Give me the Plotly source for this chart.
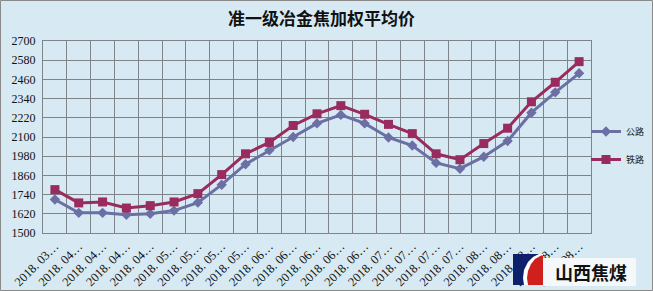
import plotly.graph_objects as go

tick_labels = ["2018. 03…"] + ["2018. 04…"] * 4 + ["2018. 05…"] * 4 + ["2018. 06…"] * 5 + \
              ["2018. 07…"] * 4 + ["2018. 08…"] * 5
gonglu = [1709, 1626, 1626, 1614, 1620, 1640, 1690, 1802, 1930, 2017, 2100, 2185, 2238,
          2185, 2097, 2047, 1938, 1902, 1977, 2075, 2252, 2379, 2498]
tielu = [1771, 1688, 1694, 1656, 1671, 1694, 1746, 1865, 1995, 2066, 2172, 2245, 2296,
         2242, 2179, 2121, 1995, 1958, 2059, 2155, 2320, 2442, 2571]
x = list(range(len(tick_labels)))

W, H = 653, 291
L, R, T, B = 43, 62, 41, 58
PW, PH = W - L - R, H - T - B

def fx(px):
    return (px - L) / PW

def fy(py):
    return (H - B - py) / PH

BG = "#D7EAF3"
GRID = "#7E848A"
BLUE = "#6B6FA3"
RED = "#9A2B5E"

fig = go.Figure()
fig.add_trace(go.Scatter(x=x, y=gonglu, name="公路", mode="lines+markers",
                         line=dict(color=BLUE, width=3),
                         marker=dict(symbol="diamond", size=8, color=BLUE),
                         legendgroup="a"))
fig.add_trace(go.Scatter(x=x, y=tielu, name="铁路", mode="lines+markers",
                         line=dict(color=RED, width=3),
                         marker=dict(symbol="square", size=9, color=RED),
                         legendgroup="b"))

shapes = [
    dict(type="rect", xref="paper", yref="paper", x0=fx(0.5), x1=fx(W - 0.5), y0=fy(H - 0.5), y1=fy(0.5),
         line=dict(color="#8A8A8A", width=1), layer="below"),
    dict(type="rect", xref="paper", yref="paper", x0=fx(543), x1=fx(636), y0=fy(286), y1=fy(258),
         fillcolor="#F4F8FA", line=dict(width=0)),
    dict(type="rect", xref="paper", yref="paper", x0=fx(513), x1=fx(543), y0=fy(285), y1=fy(254),
         fillcolor="#0E1F6B", line=dict(width=0)),
]

def pth(pts):
    return "M " + " L ".join(f"{fx(a):.5f},{fy(b):.5f}" for a, b in pts) + " Z"

white_pts = [(539, 254), (543, 254), (543, 285), (524, 285), (523, 278), (524, 270), (528, 262), (533, 257)]
red_pts = [(541, 255.5), (543, 255.5), (543, 285), (528, 285), (527, 278), (528, 271), (531, 264), (535, 259)]
shapes.append(dict(type="path", xref="paper", yref="paper", path=pth(white_pts),
                   fillcolor="white", line=dict(width=0)))
shapes.append(dict(type="path", xref="paper", yref="paper", path=pth(red_pts),
                   fillcolor="#D0201E", line=dict(width=0)))

annotations = [
    dict(text="<b>准一级冶金焦加权平均价</b>", xref="paper", yref="paper",
         x=fx(321), y=fy(18), xanchor="center", yanchor="middle", showarrow=False,
         font=dict(family="Noto Sans CJK SC", size=17, color="#111111")),
    dict(text="<b>山西焦煤</b>", xref="paper", yref="paper",
         x=fx(591), y=fy(272), xanchor="center", yanchor="middle", showarrow=False,
         font=dict(family="Noto Sans CJK SC", size=18, color="#111111")),
]

fig.update_layout(
    width=W, height=H,
    margin=dict(l=L, r=R, t=T, b=B, autoexpand=False),
    paper_bgcolor=BG, plot_bgcolor=BG,
    showlegend=True,
    legend=dict(x=fx(586), y=fy(117), xanchor="left", yanchor="top",
                bgcolor="rgba(0,0,0,0)", tracegroupgap=9,
                font=dict(family="Noto Sans CJK SC", size=9, color="#222222")),
    shapes=shapes,
    annotations=annotations,
    xaxis=dict(range=[-0.5, len(x) - 0.5], tickmode="array", tickvals=x, ticktext=tick_labels,
               tickangle=-45, showgrid=False, zeroline=False, automargin=False,
               showline=True, linecolor=GRID, linewidth=1, mirror=True,
               tickfont=dict(family="Liberation Serif", size=12.5, color="#111111"),
               minor=dict(tickmode="linear", tick0=0.5, dtick=1, showgrid=True,
                          gridcolor=GRID, gridwidth=1.2)),
    yaxis=dict(range=[1500, 2700], tickmode="linear", tick0=1500, dtick=120,
               showgrid=True, gridcolor=GRID, gridwidth=1.2, zeroline=False, automargin=False,
               showline=True, linecolor=GRID, linewidth=1, mirror=True,
               tickfont=dict(family="Liberation Serif", size=12, color="#111111"),
               ticks="", ticklabelstandoff=4),
)

fig.write_html("out.html")
